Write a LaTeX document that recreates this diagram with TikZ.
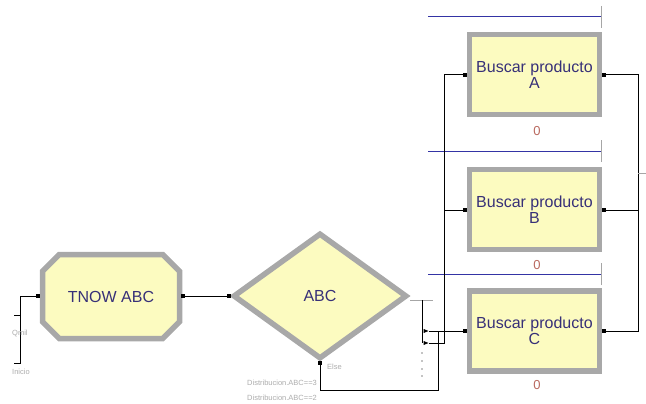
\documentclass[tikz,border=0pt]{standalone}
\usepackage{fontspec}
\setmainfont{Liberation Sans}
\usetikzlibrary{positioning,shapes.geometric,shapes.misc}
\definecolor{modfill}{RGB}{252,251,192}
\definecolor{modframe}{RGB}{168,168,168}
\definecolor{modtext}{RGB}{55,48,120}
\definecolor{queueblue}{RGB}{52,52,165}
\definecolor{countred}{RGB}{185,105,95}

\begin{document}
\begin{tikzpicture}[
    x=1pt, y=-1pt,
    every node/.style={inner sep=0pt},
    module/.style={draw=modframe, fill=modfill, line width=5.5pt, text=modtext,
                   font=\fontsize{16}{16.5}\selectfont, align=center},
    process/.style={module, rectangle, minimum width=130pt, minimum height=80pt},
    assign/.style={module, chamfered rectangle, chamfered rectangle xsep=11pt,
                   chamfered rectangle ysep=11pt, minimum width=137pt, minimum height=84pt},
    decide/.style={module, diamond, minimum width=174pt, minimum height=126pt},
    port/.style={rectangle, fill=black, minimum size=4pt},
    exitmark/.style={isosceles triangle, fill=black, minimum width=4pt, minimum height=4pt},
    link/.style={black, line width=1pt},
    stub/.style={gray!70, line width=1pt},
    queueline/.style={queueblue, line width=1pt},
    tiny/.style={font=\fontsize{7.5}{8}\selectfont, text=gray!65, anchor=west},
    counter/.style={font=\fontsize{13}{14}\selectfont, text=countred}
]
\useasboundingbox (0,0) rectangle (646,404);

% modules
\node[assign]  (tnow) at (111,296.5) {TNOW ABC};
\node[decide]  (abc)  at (320,296)   {ABC};
\node[process] (busA) at (534.5,74.5) {Buscar producto\\A};
\node[process] (busB) at (534.5,209.5) {Buscar producto\\B};
\node[process] (busC) at (534.5,331) {Buscar producto\\C};

% queues and counters
\foreach \qy in {17,151,274} {
  \draw[queueline] (428,\qy) -- (601,\qy);
  \draw[stub] (601,\qy-11) -- (601,\qy+11);
}
\node[counter] (cntA) at (537,131) {0};
\node[counter] (cntB) at (537,265) {0};
\node[counter] (cntC) at (537,385) {0};

% ports
\node[port] (tnowIn)  at (38,296)  {};
\node[port] (tnowOut) at (183,296) {};
\node[port] (abcIn)   at (229,296) {};
\node[port] (abcElse) at (320,363) {};
\node[exitmark] (abcTrue)  at (425,331) {};
\node[exitmark] (abcExit2) at (425,343) {};
\node[port] (aIn)  at (465,75)  {};
\node[port] (aOut) at (604,75)  {};
\node[port] (bIn)  at (465,210) {};
\node[port] (bOut) at (604,210) {};
\node[port] (cIn)  at (465,331) {};
\node[port] (cOut) at (604,331) {};
\coordinate (merge) at (638,173);
\coordinate (elseTurn) at (438,390);

% entry stub on the left
\draw[link] (tnowIn) -- (20,296) -- (20,363) -- (14,363);
\draw[link] (20,315) -- (14,315);

% decide exits
\draw[stub] (410,300) -- (433,300);
\draw[link] (422,300) -- (422,343);
\foreach \dy in {353,361,369,376}
  \fill (422,\dy) circle (0.7pt);

% connectors
\draw[link] (tnowOut) -- (abcIn);
\draw[link] (abcTrue) -- (cIn);
\draw[link] (abcExit2) -| ([xshift=-21pt]aIn.center) -- (aIn);
\draw[link] ([xshift=-21pt]bIn.center) -- (bIn);
\draw[link] (abcElse) |- (elseTurn) -- (elseTurn |- cIn);
\draw[link] (elseTurn |- cIn) rectangle ++(6,12);
\draw[link] (aOut) -| (merge);
\draw[link] (cOut) -| (merge);
\draw[link] (bOut) -- (bOut -| merge);
\draw[stub] (merge) -- ++(8,0);

% small labels
\node[tiny] (lblElse) at (327,367) {Else};
\node[tiny] (lblD3) at (247,383) {Distribucion.ABC==3};
\node[tiny] (lblD2) at (247,398) {Distribucion.ABC==2};
\node[tiny] (lblQ) at (12,333) {Qmil};
\node[tiny] (lblI) at (12,372) {Inicio};
\end{tikzpicture}
\end{document}
